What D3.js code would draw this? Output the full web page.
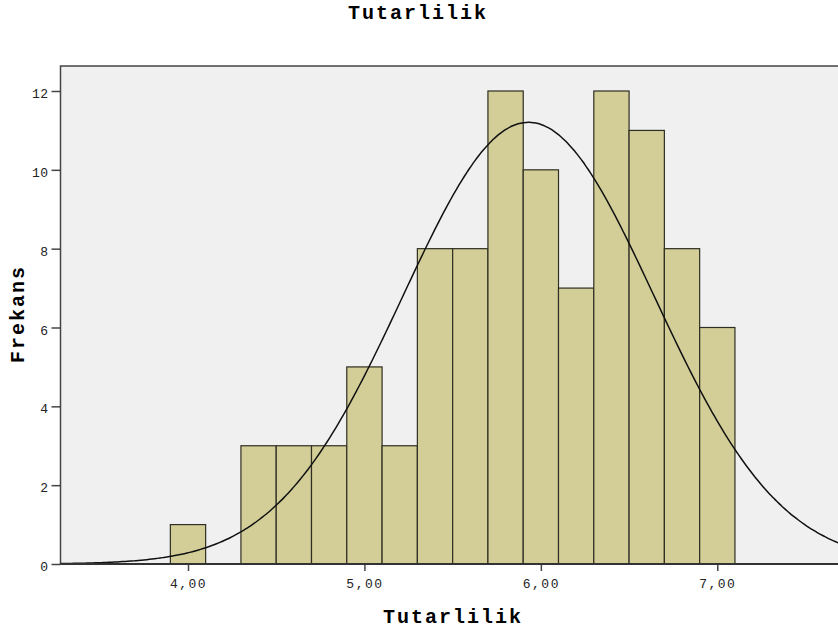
<!DOCTYPE html>
<html>
<head>
<meta charset="utf-8">
<script src="https://cdn.jsdelivr.net/npm/d3@7"></script>
<style>
  body { margin: 0; background: #fff; }
  text { font-family: "Liberation Mono", "DejaVu Sans Mono", monospace; }
</style>
</head>
<body>
<div id="chart"></div>
<script>
// bins of width 0.2, start values and counts
var binStarts = [3.9, 4.1, 4.3, 4.5, 4.7, 4.9, 5.1, 5.3, 5.5, 5.7, 5.9, 6.1, 6.3, 6.5, 6.7, 6.9];
var counts    = [1,   0,   3,   3,   3,   5,   3,   8,   8,   12,  10,  7,   12,  11,  8,   6];
var binWidth = 0.2;
var xTicks = [4, 5, 6, 7];
var yTicks = [0, 2, 4, 6, 8, 10, 12];
// normal curve parameters
var mean = 5.93, stdDev = 0.712, n = 100;

var width = 838, height = 633;
var plotLeft = 60.5, plotTop = 66, plotBottom = 564;

var svg = d3.select("#chart").append("svg")
    .attr("width", width)
    .attr("height", height);

var x = d3.scaleLinear().domain([4, 7]).range([188, 717.3]);
var y = d3.scaleLinear().domain([0, 12]).range([plotBottom, 91]);

var xMin = x.invert(plotLeft), xMax = x.invert(width + 30);

// plot background
svg.append("rect")
    .attr("x", plotLeft).attr("y", plotTop)
    .attr("width", width + 30 - plotLeft).attr("height", plotBottom - plotTop)
    .attr("fill", "#f0f0f0")
    .attr("stroke", "#444")
    .attr("stroke-width", 1.5);

// bars
svg.append("g").selectAll("rect")
    .data(binStarts.map(function(s, i) { return {x0: s, c: counts[i]}; }).filter(function(d) { return d.c > 0; }))
    .enter().append("rect")
    .attr("x", function(d) { return x(d.x0); })
    .attr("y", function(d) { return y(d.c); })
    .attr("width", function(d) { return x(d.x0 + binWidth) - x(d.x0); })
    .attr("height", function(d) { return y(0) - y(d.c); })
    .attr("fill", "#d3ce98")
    .attr("stroke", "#2e2e22")
    .attr("stroke-width", 1.2);

// normal curve
var pts = d3.range(0, 301).map(function(i) { return xMin + (xMax - xMin) * i / 300; });
var line = d3.line()
    .x(function(v) { return x(v); })
    .y(function(v) {
        var z = (v - mean) / stdDev;
        return y(n * binWidth / (stdDev * Math.sqrt(2 * Math.PI)) * Math.exp(-0.5 * z * z));
    })
    .curve(d3.curveBasis);
svg.append("path")
    .datum(pts)
    .attr("d", line)
    .attr("fill", "none")
    .attr("stroke", "#111")
    .attr("stroke-width", 1.5);

// axes
var xAxis = svg.append("g")
    .attr("transform", "translate(0," + plotBottom + ")")
    .call(d3.axisBottom(x).tickValues(xTicks).tickSize(7).tickSizeOuter(0)
        .tickFormat(function(d) { return d3.format(".2f")(d).replace(".", ","); }));
xAxis.select(".domain").remove();
xAxis.selectAll("line").attr("stroke", "#444").attr("stroke-width", 1.5);
xAxis.selectAll("text").attr("font-size", 13).attr("fill", "#222")
    .attr("letter-spacing", 1.5).attr("dy", "1.05em")
    .style("font-family", "'Liberation Mono', monospace");

var yAxis = svg.append("g")
    .attr("transform", "translate(" + plotLeft + ",0)")
    .call(d3.axisLeft(y).tickValues(yTicks).tickSize(9).tickSizeOuter(0));
yAxis.select(".domain").remove();
yAxis.selectAll("line").attr("stroke", "#444").attr("stroke-width", 1.5);
yAxis.selectAll("text").attr("font-size", 13).attr("fill", "#222")
    .attr("letter-spacing", 0.5).attr("x", -12).attr("dy", "0.5em")
    .style("font-family", "'Liberation Mono', monospace");

// bottom axis line on top of bars
svg.append("line")
    .attr("x1", plotLeft).attr("x2", width)
    .attr("y1", plotBottom).attr("y2", plotBottom)
    .attr("stroke", "#333").attr("stroke-width", 2);

// titles
svg.append("text")
    .attr("x", 418).attr("y", 19)
    .attr("text-anchor", "middle")
    .attr("font-size", 20).attr("font-weight", "bold")
    .attr("letter-spacing", 2)
    .text("Tutarlilik");

svg.append("text")
    .attr("x", 453).attr("y", 623)
    .attr("text-anchor", "middle")
    .attr("font-size", 20).attr("font-weight", "bold")
    .attr("letter-spacing", 2)
    .text("Tutarlilik");

svg.append("text")
    .attr("transform", "translate(24,314) rotate(-90)")
    .attr("text-anchor", "middle")
    .attr("font-size", 20).attr("font-weight", "bold")
    .attr("letter-spacing", 2)
    .text("Frekans");
</script>
</body>
</html>
